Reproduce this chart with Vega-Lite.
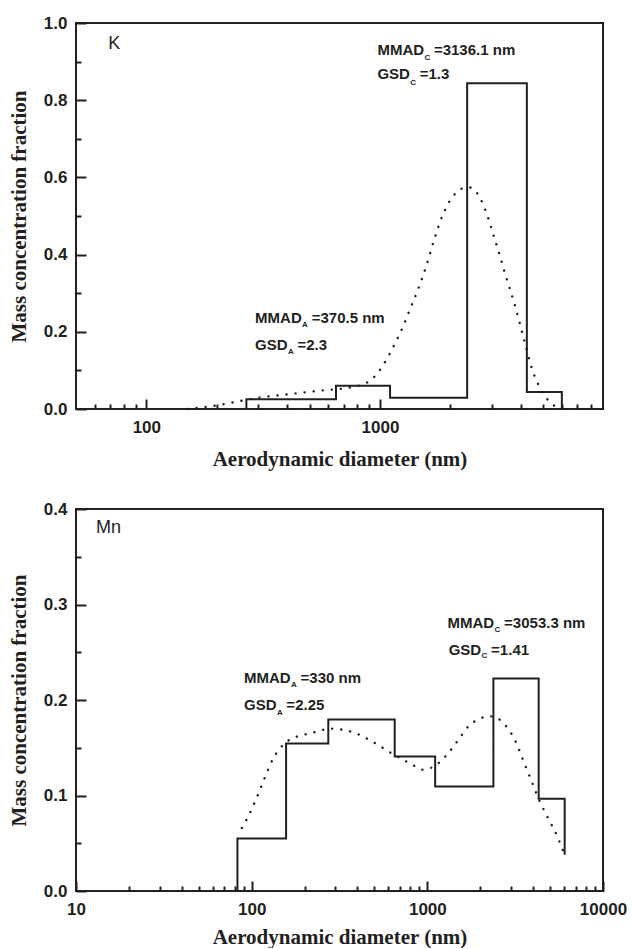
{
  "$schema": "https://vega.github.io/schema/vega-lite/v6.json",
  "background": "white",
  "padding": {"left": 7, "top": 13, "right": 4, "bottom": 0},
  "datasets": {
    "steps": [
      {"panel": "K", "d": 50, "f": 0},
      {"panel": "K", "d": 268, "f": 0.025},
      {"panel": "K", "d": 648, "f": 0.06},
      {"panel": "K", "d": 1104, "f": 0.029},
      {"panel": "K", "d": 2360, "f": 0.844},
      {"panel": "K", "d": 4250, "f": 0.044},
      {"panel": "K", "d": 6000, "f": 0},
      {"panel": "Mn", "d": 60, "f": 0},
      {"panel": "Mn", "d": 83, "f": 0.055},
      {"panel": "Mn", "d": 157, "f": 0.1545},
      {"panel": "Mn", "d": 273, "f": 0.1796},
      {"panel": "Mn", "d": 652, "f": 0.1409},
      {"panel": "Mn", "d": 1108, "f": 0.1095},
      {"panel": "Mn", "d": 2377, "f": 0.2225},
      {"panel": "Mn", "d": 4303, "f": 0.0966},
      {"panel": "Mn", "d": 6050, "f": 0.038}
    ],
    "curves": [
      {"panel": "K", "d": 150, "f": 0},
      {"panel": "K", "d": 183, "f": 0.006},
      {"panel": "K", "d": 203, "f": 0.01},
      {"panel": "K", "d": 253, "f": 0.021},
      {"panel": "K", "d": 308, "f": 0.03},
      {"panel": "K", "d": 376, "f": 0.036},
      {"panel": "K", "d": 459, "f": 0.042},
      {"panel": "K", "d": 561, "f": 0.048},
      {"panel": "K", "d": 713, "f": 0.054},
      {"panel": "K", "d": 869, "f": 0.067},
      {"panel": "K", "d": 961, "f": 0.088},
      {"panel": "K", "d": 1041, "f": 0.118},
      {"panel": "K", "d": 1151, "f": 0.166},
      {"panel": "K", "d": 1245, "f": 0.209},
      {"panel": "K", "d": 1349, "f": 0.261},
      {"panel": "K", "d": 1461, "f": 0.313},
      {"panel": "K", "d": 1582, "f": 0.373},
      {"panel": "K", "d": 1714, "f": 0.443},
      {"panel": "K", "d": 1856, "f": 0.503},
      {"panel": "K", "d": 2052, "f": 0.551},
      {"panel": "K", "d": 2267, "f": 0.572},
      {"panel": "K", "d": 2406, "f": 0.574},
      {"panel": "K", "d": 2605, "f": 0.559},
      {"panel": "K", "d": 2822, "f": 0.516},
      {"panel": "K", "d": 3120, "f": 0.434},
      {"panel": "K", "d": 3446, "f": 0.347},
      {"panel": "K", "d": 3809, "f": 0.261},
      {"panel": "K", "d": 4121, "f": 0.183},
      {"panel": "K", "d": 4464, "f": 0.105},
      {"panel": "K", "d": 4835, "f": 0.055},
      {"panel": "K", "d": 5237, "f": 0.023},
      {"panel": "K", "d": 5785, "f": 0.002},
      {"panel": "Mn", "d": 88, "f": 0.066},
      {"panel": "Mn", "d": 95, "f": 0.077},
      {"panel": "Mn", "d": 107, "f": 0.098},
      {"panel": "Mn", "d": 119, "f": 0.119},
      {"panel": "Mn", "d": 132, "f": 0.138},
      {"panel": "Mn", "d": 155, "f": 0.155},
      {"panel": "Mn", "d": 177, "f": 0.161},
      {"panel": "Mn", "d": 202, "f": 0.164},
      {"panel": "Mn", "d": 237, "f": 0.167},
      {"panel": "Mn", "d": 278, "f": 0.17},
      {"panel": "Mn", "d": 326, "f": 0.169},
      {"panel": "Mn", "d": 382, "f": 0.166},
      {"panel": "Mn", "d": 448, "f": 0.16},
      {"panel": "Mn", "d": 525, "f": 0.153},
      {"panel": "Mn", "d": 615, "f": 0.145},
      {"panel": "Mn", "d": 720, "f": 0.138},
      {"panel": "Mn", "d": 844, "f": 0.131},
      {"panel": "Mn", "d": 940, "f": 0.127},
      {"panel": "Mn", "d": 1050, "f": 0.129},
      {"panel": "Mn", "d": 1159, "f": 0.134},
      {"panel": "Mn", "d": 1324, "f": 0.145},
      {"panel": "Mn", "d": 1511, "f": 0.159},
      {"panel": "Mn", "d": 1725, "f": 0.173},
      {"panel": "Mn", "d": 1970, "f": 0.18},
      {"panel": "Mn", "d": 2249, "f": 0.183},
      {"panel": "Mn", "d": 2500, "f": 0.181},
      {"panel": "Mn", "d": 2853, "f": 0.171},
      {"panel": "Mn", "d": 3172, "f": 0.157},
      {"panel": "Mn", "d": 3526, "f": 0.136},
      {"panel": "Mn", "d": 3920, "f": 0.115},
      {"panel": "Mn", "d": 4358, "f": 0.094},
      {"panel": "Mn", "d": 4845, "f": 0.077},
      {"panel": "Mn", "d": 5530, "f": 0.056},
      {"panel": "Mn", "d": 5986, "f": 0.04}
    ],
    "notes": [
      {"panel": "K", "d": 68.7, "f": 0.9456, "text": "K", "part": "elem"},
      {"panel": "K", "d": 975, "f": 0.931, "text": "MMAD", "part": "main"},
      {"panel": "K", "d": 1549, "f": 0.909, "text": "C", "part": "sub"},
      {"panel": "K", "d": 1701, "f": 0.931, "text": "=3136.1 nm", "part": "main"},
      {"panel": "K", "d": 975, "f": 0.867, "text": "GSD", "part": "main"},
      {"panel": "K", "d": 1348, "f": 0.8445, "text": "C", "part": "sub"},
      {"panel": "K", "d": 1479, "f": 0.867, "text": "=1.3", "part": "main"},
      {"panel": "K", "d": 292, "f": 0.237, "text": "MMAD", "part": "main"},
      {"panel": "K", "d": 464, "f": 0.218, "text": "A", "part": "sub"},
      {"panel": "K", "d": 510, "f": 0.237, "text": "=370.5 nm", "part": "main"},
      {"panel": "K", "d": 292, "f": 0.166, "text": "GSD", "part": "main"},
      {"panel": "K", "d": 404, "f": 0.147, "text": "A", "part": "sub"},
      {"panel": "K", "d": 443, "f": 0.166, "text": "=2.3", "part": "main"},
      {"panel": "Mn", "d": 13.0, "f": 0.38, "text": "Mn", "part": "elem"},
      {"panel": "Mn", "d": 1302, "f": 0.2807, "text": "MMAD", "part": "main"},
      {"panel": "Mn", "d": 2415, "f": 0.2738, "text": "C", "part": "sub"},
      {"panel": "Mn", "d": 2735, "f": 0.2807, "text": "=3053.3 nm", "part": "main"},
      {"panel": "Mn", "d": 1323, "f": 0.2528, "text": "GSD", "part": "main"},
      {"panel": "Mn", "d": 2037, "f": 0.2459, "text": "C", "part": "sub"},
      {"panel": "Mn", "d": 2307, "f": 0.2528, "text": "=1.41", "part": "main"},
      {"panel": "Mn", "d": 90.4, "f": 0.2232, "text": "MMAD", "part": "main"},
      {"panel": "Mn", "d": 167.7, "f": 0.2155, "text": "A", "part": "sub"},
      {"panel": "Mn", "d": 189.8, "f": 0.2232, "text": "=330 nm", "part": "main"},
      {"panel": "Mn", "d": 90.4, "f": 0.1946, "text": "GSD", "part": "main"},
      {"panel": "Mn", "d": 139.2, "f": 0.1866, "text": "A", "part": "sub"},
      {"panel": "Mn", "d": 157.6, "f": 0.1946, "text": "=2.25", "part": "main"}
    ]
  },
  "spacing": 100,
  "bounds": "flush",
  "vconcat": [
    {
      "width": 527,
      "height": 386,
      "layer": [
        {
          "data": {"name": "steps"},
          "transform": [{"filter": "datum.panel === 'K'"}],
          "mark": {"type": "line", "interpolate": "step-after", "stroke": "#231f20", "strokeWidth": 2},
          "encoding": {
            "x": {"field": "d", "type": "quantitative", "scale": {"type": "log", "domain": [50, 9000], "nice": false},
              "axis": {"orient": "bottom", "values": [100, 1000], "format": "d", "tickSize": -10, "title": "Aerodynamic diameter (nm)"}},
            "y": {"field": "f", "type": "quantitative", "scale": {"domain": [0, 1], "nice": false},
              "axis": {"orient": "left", "values": [0, 0.2, 0.4, 0.6, 0.8, 1.0], "format": ".1f", "tickSize": -10, "title": "Mass concentration fraction"}}
          }
        },
        {
          "data": {"name": "curves"},
          "transform": [{"filter": "datum.panel === 'K'"}],
          "mark": {"type": "line", "interpolate": "monotone", "stroke": "#231f20", "strokeWidth": 2.4, "strokeDash": [0.1, 9], "strokeCap": "round"},
          "encoding": {
            "x": {"field": "d", "type": "quantitative",
              "axis": {"orient": "bottom", "values": [60, 70, 80, 90, 200, 300, 400, 500, 600, 700, 800, 900, 2000, 3000, 4000, 5000, 6000, 7000, 8000], "tickSize": -5, "labels": false, "title": null}},
            "y": {"field": "f", "type": "quantitative",
              "axis": {"orient": "left", "values": [0.1, 0.3, 0.5, 0.7, 0.9], "tickSize": -5, "labels": false, "title": null}}
          }
        },
        {
          "data": {"name": "notes"},
          "transform": [{"filter": "datum.panel === 'K' && datum.part === 'main'"}],
          "mark": {"type": "text", "align": "left", "baseline": "middle", "font": "Liberation Sans", "fontWeight": "bold", "fontSize": 15, "color": "#231f20"},
          "encoding": {
            "x": {"field": "d", "type": "quantitative", "axis": null},
            "y": {"field": "f", "type": "quantitative", "axis": null},
            "text": {"field": "text"}
          }
        },
        {
          "data": {"name": "notes"},
          "transform": [{"filter": "datum.panel === 'K' && datum.part === 'sub'"}],
          "mark": {"type": "text", "align": "left", "baseline": "middle", "font": "Liberation Sans", "fontWeight": "bold", "fontSize": 8, "color": "#231f20"},
          "encoding": {
            "x": {"field": "d", "type": "quantitative", "axis": null},
            "y": {"field": "f", "type": "quantitative", "axis": null},
            "text": {"field": "text"}
          }
        },
        {
          "data": {"name": "notes"},
          "transform": [{"filter": "datum.panel === 'K' && datum.part === 'elem'"}],
          "mark": {"type": "text", "align": "left", "baseline": "middle", "font": "Liberation Sans", "fontSize": 18, "color": "#231f20"},
          "encoding": {
            "x": {"field": "d", "type": "quantitative", "axis": null},
            "y": {"field": "f", "type": "quantitative", "axis": null},
            "text": {"field": "text"}
          }
        }
      ],
      "resolve": {"axis": {"x": "independent", "y": "independent"}}
    },
    {
      "width": 527,
      "height": 382,
      "layer": [
        {
          "data": {"name": "steps"},
          "transform": [{"filter": "datum.panel === 'Mn'"}],
          "mark": {"type": "line", "interpolate": "step-after", "stroke": "#231f20", "strokeWidth": 2},
          "encoding": {
            "x": {"field": "d", "type": "quantitative", "scale": {"type": "log", "domain": [10, 10000], "nice": false},
              "axis": {"orient": "bottom", "values": [10, 100, 1000, 10000], "format": "d", "tickSize": -10, "titlePadding": 9, "title": "Aerodynamic diameter (nm)"}},
            "y": {"field": "f", "type": "quantitative", "scale": {"domain": [0, 0.4], "nice": false},
              "axis": {"orient": "left", "values": [0, 0.1, 0.2, 0.3, 0.4], "format": ".1f", "tickSize": -10, "title": "Mass concentration fraction"}}
          }
        },
        {
          "data": {"name": "curves"},
          "transform": [{"filter": "datum.panel === 'Mn'"}],
          "mark": {"type": "line", "interpolate": "monotone", "stroke": "#231f20", "strokeWidth": 2.4, "strokeDash": [0.1, 9], "strokeCap": "round"},
          "encoding": {
            "x": {"field": "d", "type": "quantitative",
              "axis": {"orient": "bottom", "values": [20, 30, 40, 50, 60, 70, 80, 90, 200, 300, 400, 500, 600, 700, 800, 900, 2000, 3000, 4000, 5000, 6000, 7000, 8000, 9000], "tickSize": -5, "labels": false, "title": null}},
            "y": {"field": "f", "type": "quantitative",
              "axis": {"orient": "left", "values": [0.05, 0.15, 0.25, 0.35], "tickSize": -5, "labels": false, "title": null}}
          }
        },
        {
          "data": {"name": "notes"},
          "transform": [{"filter": "datum.panel === 'Mn' && datum.part === 'main'"}],
          "mark": {"type": "text", "align": "left", "baseline": "middle", "font": "Liberation Sans", "fontWeight": "bold", "fontSize": 15, "color": "#231f20"},
          "encoding": {
            "x": {"field": "d", "type": "quantitative", "axis": null},
            "y": {"field": "f", "type": "quantitative", "axis": null},
            "text": {"field": "text"}
          }
        },
        {
          "data": {"name": "notes"},
          "transform": [{"filter": "datum.panel === 'Mn' && datum.part === 'sub'"}],
          "mark": {"type": "text", "align": "left", "baseline": "middle", "font": "Liberation Sans", "fontWeight": "bold", "fontSize": 8, "color": "#231f20"},
          "encoding": {
            "x": {"field": "d", "type": "quantitative", "axis": null},
            "y": {"field": "f", "type": "quantitative", "axis": null},
            "text": {"field": "text"}
          }
        },
        {
          "data": {"name": "notes"},
          "transform": [{"filter": "datum.panel === 'Mn' && datum.part === 'elem'"}],
          "mark": {"type": "text", "align": "left", "baseline": "middle", "font": "Liberation Sans", "fontSize": 18, "color": "#231f20"},
          "encoding": {
            "x": {"field": "d", "type": "quantitative", "axis": null},
            "y": {"field": "f", "type": "quantitative", "axis": null},
            "text": {"field": "text"}
          }
        }
      ],
      "resolve": {"axis": {"x": "independent", "y": "independent"}}
    }
  ],
  "config": {
    "view": {"stroke": "#231f20", "strokeWidth": 2},
    "axis": {
      "domain": false,
      "grid": false,
      "tickColor": "#231f20",
      "tickWidth": 2,
      "labelFont": "Liberation Sans",
      "labelFontWeight": "bold",
      "labelFontSize": 17,
      "labelColor": "#231f20",
      "labelFlush": false,
      "labelOverlap": false,
      "titleFont": "Liberation Serif",
      "titleFontWeight": "bold",
      "titleFontSize": 21,
      "titleColor": "#231f20"
    },
    "axisX": {"labelPadding": 20, "titlePadding": 13},
    "axisY": {"labelPadding": 19, "titlePadding": 14}
  }
}
